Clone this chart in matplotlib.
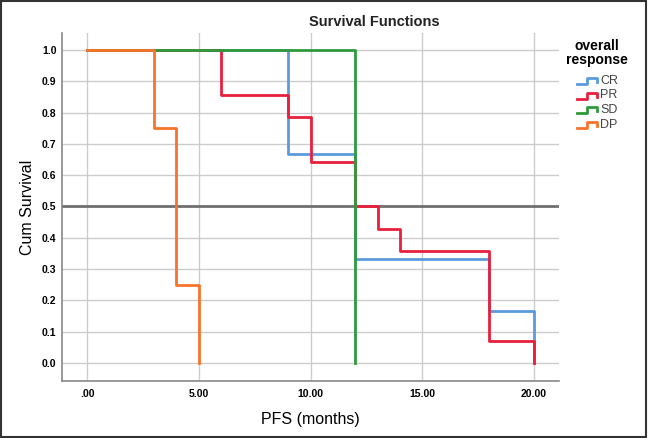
import matplotlib
matplotlib.use("Agg")
import matplotlib.pyplot as plt
from matplotlib.lines import Line2D
from matplotlib.patches import Rectangle

plt.rcParams['font.family'] = ['Liberation Sans', 'DejaVu Sans']

# survival step data (time, cum survival after the step)
groups = ["CR", "PR", "SD", "DP"]
colors = ["#5b9bdc", "#e8203e", "#2e9a3c", "#f7742a"]

cr_t = [0, 9, 12, 18, 20]
cr_s = [1.0, 0.667, 0.333, 0.167, 0.0]

pr_t = [0, 6, 9, 10, 12, 13, 14, 18, 20]
pr_s = [1.0, 0.857, 0.786, 0.643, 0.5, 0.429, 0.357, 0.071, 0.0]

sd_t = [0, 12]
sd_s = [1.0, 0.0]

dp_t = [0, 3, 4, 5]
dp_s = [1.0, 0.75, 0.25, 0.0]

times = [cr_t, pr_t, sd_t, dp_t]
survs = [cr_s, pr_s, sd_s, dp_s]

xticks = [0, 5, 10, 15, 20]
xtick_labels = [".00", "5.00", "10.00", "15.00", "20.00"]
yticks = [0.0, 0.1, 0.2, 0.3, 0.4, 0.5, 0.6, 0.7, 0.8, 0.9, 1.0]

fig = plt.figure(figsize=(6.48, 4.38), dpi=100)
ax = fig.add_axes([62 / 648, 1 - 381 / 438, (559 - 62) / 648, (381 - 33) / 438])

ax.set_xlim(-1.12, 21.12)
ax.set_ylim(-0.0575, 1.054)

for t, s, c in zip(times, survs, colors):
    ax.step(t, s, where="post", color=c, lw=2, zorder=3)

ax.axhline(0.5, color="#707070", lw=2, zorder=2)

ax.set_xticks(xticks)
ax.set_xticklabels(xtick_labels)
ax.set_yticks(yticks)
ax.set_yticklabels([f"{v:.1f}" for v in yticks])
ax.tick_params(length=0, labelsize=7.5)
ax.tick_params(axis="x", pad=6)
ax.tick_params(axis="y", pad=4)
for lab in ax.get_xticklabels() + ax.get_yticklabels():
    lab.set_fontweight("bold")

ax.grid(True, color="#cccccc", lw=1, zorder=0)
ax.set_axisbelow(True)
for side in ["top", "right"]:
    ax.spines[side].set_visible(False)
for side in ["left", "bottom"]:
    ax.spines[side].set_color("#888888")
    ax.spines[side].set_linewidth(1.2)

ax.set_xlabel("PFS (months)", fontsize=11.5, labelpad=9)
ax.set_ylabel("Cum Survival", fontsize=11.5, labelpad=5)

fig.text(374 / 648, 1 - 22 / 438, "Survival Functions", ha="center", va="center",
         fontsize=10.5, fontweight="bold", color="#222222")

# legend
fig.text(597 / 648, 1 - 46 / 438, "overall", ha="center", va="center",
         fontsize=10, fontweight="bold")
fig.text(597 / 648, 1 - 60 / 438, "response", ha="center", va="center",
         fontsize=10, fontweight="bold")
for i, (g, c) in enumerate(zip(groups, colors)):
    yc = 81 + i * 14.5
    xs = [577, 587, 587, 597, 597]
    ys = [yc + 3, yc + 3, yc - 3, yc - 3, yc + 1]
    fig.add_artist(Line2D([x / 648 for x in xs], [1 - y / 438 for y in ys],
                          color=c, lw=2, transform=fig.transFigure))
    fig.text(600 / 648, 1 - yc / 438, g, ha="left", va="center", fontsize=9,
             color="#444444")

fig.add_artist(Rectangle((0.002, 0.003), 0.995, 0.994, transform=fig.transFigure,
                         fill=False, edgecolor="#333333", lw=1.5))

fig.savefig("out.png", dpi=100)
